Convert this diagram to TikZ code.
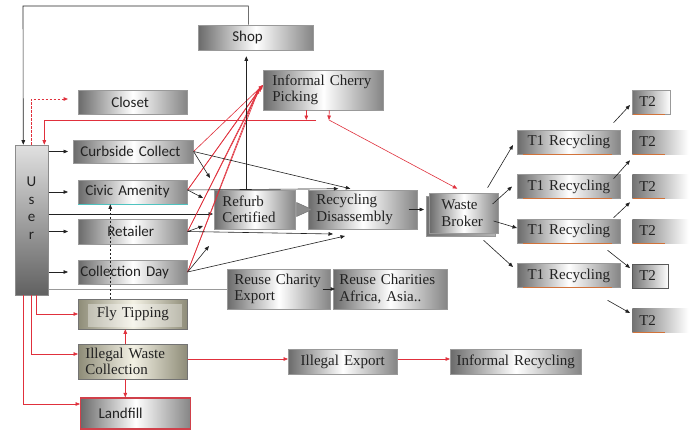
\documentclass[tikz,border=0pt]{standalone}
\usepackage{fontspec}
\setmainfont{Liberation Serif}
\newfontfamily\sansf{Carlito}
\usetikzlibrary{arrows.meta,shadows}
\definecolor{ink}{HTML}{222222}
\definecolor{rd}{HTML}{E0303C}
\definecolor{khakiE}{HTML}{8E8C78}
\definecolor{khakiM}{HTML}{F3F1E4}
\definecolor{orng}{HTML}{D2733A}
\definecolor{teal1}{HTML}{4FC3C0}
\definecolor{lfred}{HTML}{D0404A}
\tikzset{
  bx/.style={rectangle, draw=black!40, line width=0.6pt, inner ysep=0pt, text=ink, anchor=west,
     left color=black!58, right color=black!48, middle color=white},
  kh/.style={left color=khakiE, right color=khakiE, middle color=khakiM, draw=black!55},
  fade/.style={left color=black!55, right color=white},
  ss/.style={font=\sansf\fontsize{15}{16}\selectfont},
  sf/.style={font=\fontsize{15}{16.5}\selectfont},
  lb/.style n args={3}{text width=#1, inner xsep=#2, minimum height=#3, align=left},
  tip/.style={-{Triangle[length=4.5pt,width=3.6pt]}},
  arr/.style={draw=ink, line width=0.6pt, tip},
  rarr/.style={draw=rd, line width=0.6pt, tip},
  rline/.style={draw=rd, line width=0.6pt},
  rdash/.style={color=rd, draw=rd, line width=1pt, tip, dash pattern=on 2.5pt off 1.5pt},
  darr/.style={arr, dash pattern=on 2pt off 2pt},
  gline/.style={draw=black!40, line width=1pt},
  uline/.style={draw=orng, line width=1.2pt}
}
\begin{document}
\begin{tikzpicture}[x=1pt,y=-1pt]
\fill[white] (0,0) rectangle (694,431);
\useasboundingbox (0,0) rectangle (694,431);

% nodes
\node[rectangle, draw=black!45, line width=0.6pt, anchor=west, minimum width=33pt, minimum height=150pt,
      inner sep=0pt, top color=black!12, bottom color=black!62] (user) at (15,220) {};
\node[ss, text=ink, align=center, font=\sansf\fontsize{15}{17.5}\selectfont] (usertxt) at (31.5,208) {U\\s\\e\\r};

\node[bx, ss, lb={47pt}{34pt}{25pt}] (shop) at (198,37.5) {Shop};
\node[bx, ss, lb={43pt}{33pt}{24pt}] (closet) at (78,102.5) {Closet};
\node[bx, sf, lb={102pt}{9pt}{40pt}] (icp) at (263,90) {Informal Cherry\\Picking};
\node[bx, ss, lb={106pt}{7pt}{23pt}] (curb) at (73,151.5) {Curbside Collect};
\node[bx, ss, lb={95pt}{7pt}{24pt}] (civic) at (78,192) {Civic Amenity};
\node[bx, ss, lb={51pt}{29pt}{25pt}] (retailer) at (78,231.5) {Retailer};
\node[bx, ss, lb={105pt}{2pt}{24pt}] (colday) at (78,272) {Collection Day};
\node[bx, kh, sf, lb={95pt}{7pt}{30pt}, align=center,
  path picture={\fill[white,opacity=.35] ([shift={(10,-2)}]path picture bounding box.south west) rectangle ([shift={(-5,5)}]path picture bounding box.north east);}]
  (fly) at (78,314) {Fly Tipping};
\node[bx, kh, sf, lb={95pt}{7pt}{35pt}] (iwc) at (78,361.5) {Illegal Waste\\Collection};
\node[bx, ss, lb={74pt}{18pt}{31pt}, draw=lfred, line width=1.2pt] (landfill) at (80,413.5) {Landfill};
\node[bx, sf, lb={65pt}{8pt}{39pt}] (refurb) at (214,209.5) {Refurb\\Certified};
\node[bx, sf, lb={93pt}{8pt}{39pt}] (recdis) at (308,209.5) {Recycling\\Disassembly};
\node[bx, sf, lb={45pt}{12pt}{40pt},
  general shadow={shadow xshift=-3pt, shadow yshift=-3pt, left color=black!55, right color=black!30, draw=black!40}] (wb) at (429,213) {Waste\\Broker};
\node[bx, sf, lb={89pt}{7pt}{40pt}] (rce) at (227,289) {Reuse Charity\\Export};
\node[bx, sf, lb={102pt}{6pt}{40pt}] (rca) at (333,289) {Reuse Charities\\Africa, Asia..};
\node[bx, sf, lb={95pt}{7pt}{25pt}, align=center] (iexp) at (288,361.5) {Illegal Export};
\node[bx, sf, lb={121pt}{5pt}{25pt}, align=center] (irec) at (450,361.5) {Informal Recycling};

\node[bx, sf, lb={97pt}{3pt}{24pt}, align=center] (t1a) at (517,142) {T1 Recycling};
\node[bx, sf, lb={97pt}{3pt}{24pt}, align=center] (t1b) at (517,186.5) {T1 Recycling};
\node[bx, sf, lb={97pt}{3pt}{24pt}, align=center] (t1c) at (517,231) {T1 Recycling};
\node[bx, sf, lb={97pt}{3pt}{24pt}, align=center] (t1d) at (517,275.5) {T1 Recycling};

\node[bx, fade, sf, lb={24pt}{7pt}{24pt}] (t2a) at (632,102) {T2};
\node[bx, fade, sf, lb={42pt}{7pt}{24pt}, draw=none] (t2b) at (632,142) {T2};
\node[bx, fade, sf, lb={42pt}{7pt}{24pt}, draw=none] (t2c) at (632,186.5) {T2};
\node[bx, fade, sf, lb={42pt}{7pt}{24pt}, draw=none] (t2d) at (632,231) {T2};
\node[bx, fade, sf, lb={22pt}{7pt}{24pt}, draw=black!65] (t2e) at (632,276) {T2};
\node[bx, fade, sf, lb={42pt}{7pt}{24pt}, draw=none] (t2f) at (632,320.5) {T2};

% underlines
\draw[teal1, line width=1.5pt] (civic.south west) -- (civic.south east);
\foreach \n in {t1a,t1b,t1c,t1d}
  \draw[uline] ([shift={(6,0)}]\n.south west) -- ([shift={(-9,0)}]\n.south east);
\foreach \n in {t2a,t2b,t2c,t2d,t2f}
  \draw[uline] ([shift={(1,0)}]\n.south west) -- ([shift={(33,0)}]\n.south west);

% top loop shop -> user
\coordinate (loopc) at (23,6);
\draw[arr] ([xshift=-7.5pt]shop.north) |- (loopc) -- ([xshift=-8.5pt]user.north);
% closet dashed
\coordinate (clos) at (68,99);
\draw[rdash] ([xshift=-0.5pt]user.north) |- (clos);
% informal cherry picking returns
\coordinate (rl) at (316,120);
\coordinate (rw) at (329,120);
\draw[rarr] (rl) -| ([xshift=12.5pt]user.north);
\draw[rarr] ([xshift=-17pt]icp.south) -- ([xshift=-17pt]icp.south |- rl);
\draw[rarr] ([xshift=6pt]icp.south) -- (rw);
\draw[rarr] (rw) -- ([shift={(-6.5,-4)}]wb.north);

% user -> channels
\draw[arr, shorten >=5pt] (user.east |- curb.west) -- (curb.west);
\draw[arr, shorten >=10pt] (user.east |- civic.west) -- (civic.west);
\draw[arr, shorten >=10pt] (user.east |- retailer.west) -- (retailer.west);
\draw[arr, shorten >=10pt] (user.east |- colday.west) -- (colday.west);
\coordinate (rfw) at ([shift={(0,4.5)}]refurb.west);
\draw[arr, shorten >=1pt] (user.east |- rfw) -- (rfw);
\draw[gline] (user.east |- rce.west) -- (rce.west);
\draw[arr, shorten >=1pt] ([xshift=-8pt]rce.east) -- ([xshift=3pt]rca.west);

% user bottom red
\draw[rarr] ([xshift=4.5pt]user.south) |- (fly.west);
\draw[rarr] ([xshift=-0.5pt]user.south) |- ([shift={(0,-7.5)}]iwc.west);
\draw[rarr] ([xshift=-8.5pt]user.south) |- ([shift={(0,-9.5)}]landfill.west);
\draw[rarr] ([xshift=-7.5pt]iwc.north) -- ([xshift=-7.5pt]fly.south);
\draw[rarr] ([xshift=-7.5pt]iwc.south) -- ([xshift=-7.5pt]iwc.south |- landfill.north);
\draw[darr] ([xshift=-22.5pt]fly.north) -- ([xshift=-22.5pt]civic.south);
\draw[rarr] ([shift={(0,-2.5)}]iwc.east) -- ([shift={(0,-2.5)}]iexp.west);
\draw[rarr] ([shift={(0,-2.5)}]iexp.east) -- ([shift={(0,-2.5)}]irec.west);

% red to informal cherry picking
\coordinate (ci1) at (263,85);
\coordinate (ci2) at (261,87);
\coordinate (ci3) at (259,89);
\coordinate (ci4) at (257,91);
\draw[rarr] (curb.east) -- (ci1);
\draw[rarr] ([shift={(0,-2)}]civic.east) -- (ci1);
\draw[rline] ([shift={(0,-2)}]civic.east) -- (ci2);
\draw[rarr] (retailer.east) -- (ci2);
\draw[rline] (retailer.east) -- (ci3);
\draw[rarr] (colday.east) -- (ci3);
\draw[rline] (colday.east) -- (ci4);

% black channel arrows
\coordinate (k1) at (210,178);
\coordinate (k2) at (203,198);
\coordinate (k3) at (203,226);
\coordinate (k4) at (333,234);
\coordinate (k5) at (209,246);
\coordinate (k6) at (345,236);
\draw[arr] (curb.east) -- (k1);
\draw[arr] (curb.east) -- ([shift={(-12.5,-1)}]recdis.north);
\draw[arr] ([shift={(0,-2)}]civic.east) -- (k2);
\draw[arr] ([shift={(0,-2)}]civic.east) -- ([shift={(-24.5,-1)}]recdis.north);
\draw[arr] (retailer.east) -- (k3);
\draw[arr] (retailer.east) -- (k4);
\draw[arr] (colday.east) -- (k5);
\draw[arr] (colday.east) -- (k6);

% refurb -> shop, refurb -> recycling
\draw[arr, shorten >=6pt] ([xshift=-8.5pt]refurb.north) -- ([xshift=-8.5pt]refurb.north |- shop.south);
\filldraw[fill=black!45, draw=black!55, line width=0.5pt] ([shift={(1,-7)}]refurb.east) -- ([shift={(4,0)}]recdis.west) -- ([shift={(1,7)}]refurb.east) -- cycle;
\draw[arr, shorten >=5pt] ([xshift=-9pt]recdis.east) -- (recdis.east -| wb.west);

% broker -> T1
\draw[arr] ([shift={(-11,-5)}]wb.north east) -- ([shift={(-4,3)}]t1a.west);
\draw[arr] ([shift={(-6,-9)}]wb.east) -- ([shift={(-5,0)}]t1b.west);
\draw[arr] ([shift={(-5,8)}]wb.east) -- ([shift={(0,-3)}]t1c.west);
\draw[arr] ([shift={(-15,7)}]wb.south east) -- ([shift={(-4,-8.5)}]t1d.west);

% T1 -> T2
\draw[arr] ([shift={(-7,-7)}]t1a.north east) -- ([shift={(-2,3)}]t2a.west);
\draw[arr] ([shift={(-7,4.5)}]t1b.north east) -- ([shift={(-2,6)}]t2b.south west);
\draw[arr] ([shift={(-7,-1)}]t1c.north east) -- ([shift={(-2,3.5)}]t2c.south west);
\draw[arr] ([shift={(-13,7)}]t1c.south east) -- ([shift={(-2,-8)}]t2e.west);
\draw[arr] ([shift={(-13,12.5)}]t1d.south east) -- ([shift={(-2,-7.5)}]t2f.west);
\end{tikzpicture}
\end{document}
